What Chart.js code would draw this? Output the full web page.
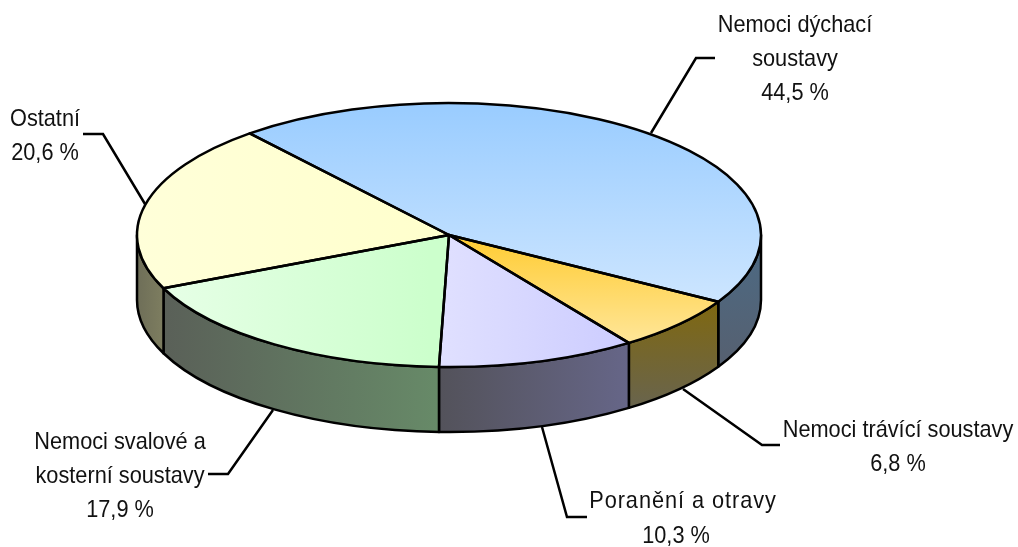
<!DOCTYPE html>
<html><head><meta charset="utf-8">
<style>html,body{margin:0;padding:0;background:#fff;overflow:hidden}canvas{display:block}</style>
<script src="https://cdn.jsdelivr.net/npm/chart.js@4"></script>
</head><body><canvas id="c" width="1018" height="547"></canvas>
<script>
const categories = ['Nemoci dýchací soustavy','Nemoci trávící soustavy','Poranění a otravy','Nemoci svalové a kosterní soustavy','Ostatní'];
const values = [44.5, 6.8, 10.3, 17.9, 20.6];
const labelLines = [['Nemoci dýchací','soustavy'],['Nemoci trávící soustavy'],['Poranění a otravy'],['Nemoci svalové a','kosterní soustavy'],['Ostatní']];

const CX=449, CY=235, RX=312, RY=132, DEPTH=65, R0=235;
const sx=RX/R0, sy=RY/R0;
const W=1018,H=547;
const FONT='24px "Liberation Sans"';
const TEXT_SQUEEZE=0.905, LW=2.5;
const INK='#111';
// gradient stops in screen coordinates: [x0,y0,x1,y1,c0,c1]
const topStyle=[
 [0,103,0,300,'#99ccff','#cce5ff'],
 [0,237,0,343,'#ffcc33','#ffe699'],
 [440,0,629,0,'#e0e0ff','#ccccff'],
 [164,0,430,0,'#e6ffe6','#ccffcc'],
 [137,0,449,0,'#ffffd9','#ffffcc']];
const wallStyle=[
 [0,240,0,365,'#4c6a84','#566070'],
 [0,300,0,410,'#80680f','#68644f'],
 [438,0,629,0,'#53525a','#666688'],
 [164,0,438,0,'#5a6058','#678a68'],
 [137,0,164,0,'#6e6e58','#7e7e60']];
const leaders=[
 [[651,133],[696,58],[715,58]],
 [[683,389],[762,445],[780,445]],
 [[542,427],[567,517],[587,517]],
 [[273,410],[228,474],[208,474]],
 [[145,204],[103,134],[83,134]]];
// [centre x, first baseline, line height, centre x of the value line, letter spacing]
const textPos=[[795,32,34,795,0],[898,437,34,898,0],[683,508,35,676,1.05],[120,449,34,120,0],[45,126,34,45,0]];

const el=document.getElementById('c');
const g=el.getContext('2d');
function grad(s,local){
  const L=local?(x,y)=>[CX+(x-CX)/sx,CY+(y-CY)/sy]:(x,y)=>[x,y];
  const a=L(s[0],s[1]),b=L(s[2],s[3]);
  const lg=g.createLinearGradient(a[0],a[1],b[0],b[1]);
  lg.addColorStop(0,s[4]);lg.addColorStop(1,s[5]);return lg;
}
function ell(ctx,cy,a,b,ccw){ctx.ellipse(CX,cy,RX,RY,0,a,b,ccw);}
const pie3d={id:'pie3d',
 beforeDatasetDraw(chart){
  const ctx=chart.ctx, arcs=chart.getDatasetMeta(0).data;
  ctx.save();ctx.lineJoin='round';ctx.lineWidth=LW;ctx.strokeStyle='#000';
  arcs.forEach((arc,i)=>{
    const T=Math.PI*2;
    for(const k of [-1,0,1]){
      const a=Math.max(arc.startAngle+k*T,0), b=Math.min(arc.endAngle+k*T,Math.PI);
      if(b<=a)continue;
      ctx.beginPath();ell(ctx,CY,a,b,false);ell(ctx,CY+DEPTH,b,a,true);ctx.closePath();
      ctx.fillStyle=grad(wallStyle[i],false);ctx.fill();ctx.stroke();
    }
  });
  ctx.restore();
  ctx.save();ctx.translate(CX,CY);ctx.scale(sx,sy);ctx.translate(-CX,-CY);
 },
 afterDatasetDraw(chart){
  const ctx=chart.ctx, arcs=chart.getDatasetMeta(0).data;
  ctx.restore();
  ctx.save();ctx.lineJoin='round';ctx.lineWidth=LW;ctx.strokeStyle='#000';
  arcs.forEach(arc=>{
    ctx.beginPath();ctx.moveTo(CX,CY);ell(ctx,CY,arc.startAngle,arc.endAngle,false);ctx.closePath();ctx.stroke();
  });
  ctx.restore();
 },
 afterDraw(chart){
  const ctx=chart.ctx;
  ctx.save();ctx.strokeStyle='#000';ctx.lineWidth=LW;ctx.lineJoin='miter';
  leaders.forEach(p=>{ctx.beginPath();p.forEach((q,i)=>i?ctx.lineTo(q[0],q[1]):ctx.moveTo(q[0],q[1]));ctx.stroke();});
  ctx.fillStyle=INK;ctx.font=FONT;ctx.textAlign='center';ctx.textBaseline='alphabetic';
  values.forEach((v,i)=>{
    const [x,y,lh,vx,ls]=textPos[i];
    const put=(t,px,py,sp)=>{
      ctx.save();ctx.letterSpacing=sp+'px';ctx.translate(px,py);ctx.scale(TEXT_SQUEEZE,1);ctx.fillText(t,0,0);ctx.restore();
    };
    labelLines[i].forEach((t,j)=>put(t,x,y+j*lh,ls));
    put(v.toFixed(1).replace('.',',')+' %',vx,y+labelLines[i].length*lh,0);
  });
  ctx.restore();
 }};
new Chart(el,{type:'pie',
 data:{labels:categories,datasets:[{data:values,borderWidth:0,clip:false,
   backgroundColor:topStyle.map(s=>grad(s,true))}]},
 options:{responsive:false,animation:false,rotation:-39.7,
  layout:{padding:{left:0,top:0,right:W-2*CX,bottom:H-2*CY}},
  plugins:{legend:{display:false},tooltip:{enabled:false},title:{display:false}}},
 plugins:[pie3d]});
</script></body></html>
